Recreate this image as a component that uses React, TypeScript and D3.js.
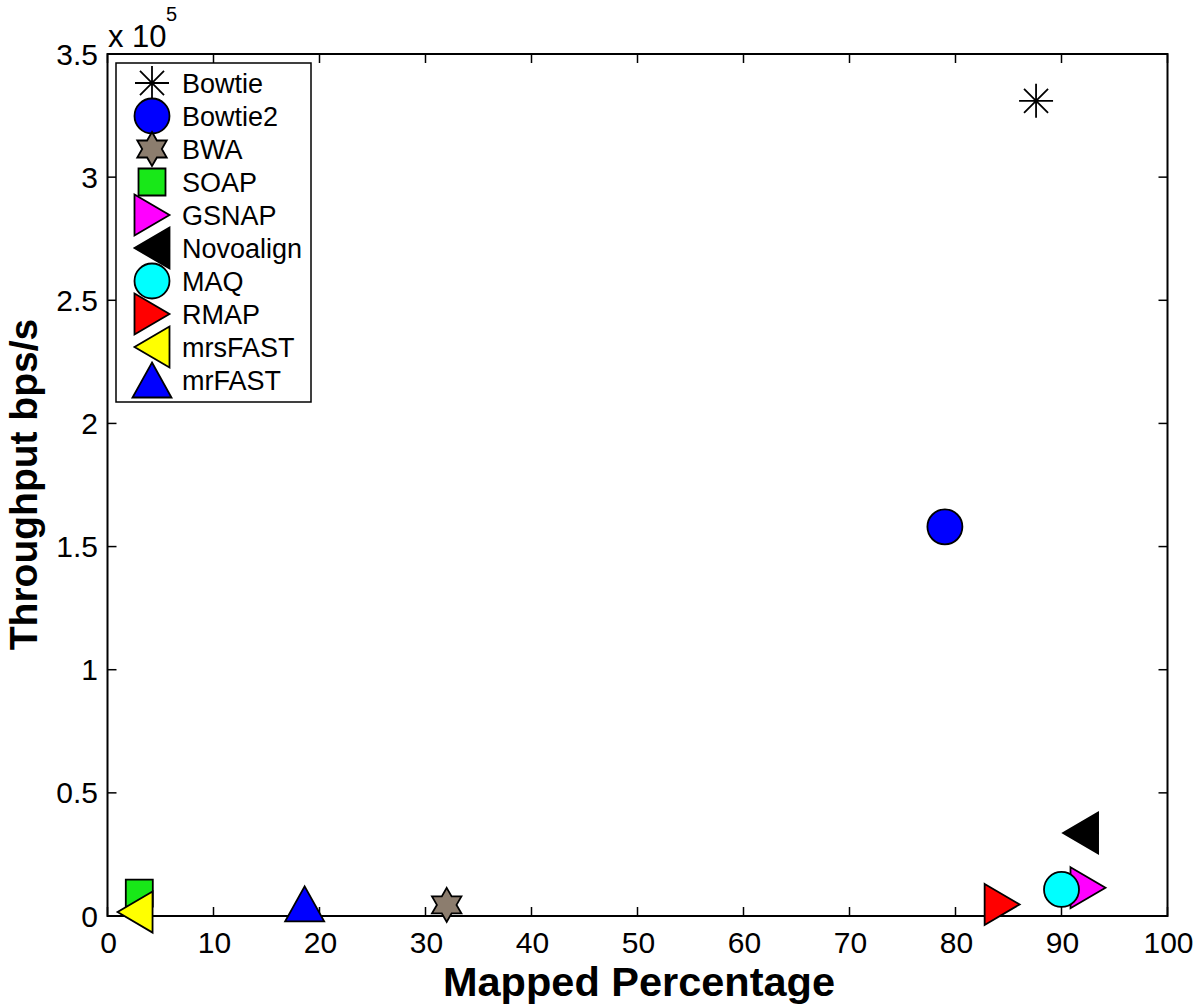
import * as d3 from "d3";

// aligners, in legend order
const names = ["Bowtie", "Bowtie2", "BWA", "SOAP", "GSNAP", "Novoalign", "MAQ", "RMAP", "mrsFAST", "mrFAST"];
const mappedPct = [87.6, 79.0, 32.0, 3.0, 92.5, 91.8, 90.0, 84.4, 2.6, 18.6];
const throughput = [331000, 158000, 4500, 9300, 11500, 33700, 10800, 4700, 1600, 4900];
const markers = ["asterisk", "circle", "hexagram", "square", "right", "left", "circle", "right", "left", "up"];
const colors = ["none", "#0000ff", "#8c7d6e", "#18e818", "#ff00ff", "#000000", "#00ffff", "#ff0000", "#ffff00", "#0000ff"];

const xTicks = [0, 10, 20, 30, 40, 50, 60, 70, 80, 90, 100];
const yTicks = [0, 0.5, 1, 1.5, 2, 2.5, 3, 3.5];

const width = 1200;
const height = 1006;
const marginLeft = 107.5;
const marginRight = 32.5;
const marginTop = 54;
const marginBottom = 90;
const font = "'Liberation Sans', Arial, Helvetica, sans-serif";

function markerPath(kind: string) {
  switch (kind) {
    case "circle":
      return d3.arc()({ innerRadius: 0, outerRadius: 17.5, startAngle: 0, endAngle: 2 * Math.PI }) as string;
    case "square":
      return "M-13.5,-13.5H13.5V13.5H-13.5Z";
    case "right":
      return "M-17.5,-20.5L17.5,0L-17.5,20.5Z";
    case "left":
      return "M17.5,-20.5L-17.5,0L17.5,20.5Z";
    case "up":
      return "M0,-17.5L19.5,17.5L-19.5,17.5Z";
    case "hexagram": {
      const pts: [number, number][] = [];
      for (let i = 0; i < 12; i++) {
        const r = i % 2 === 0 ? 17 : 9.8;
        const a = (i * Math.PI) / 6 - Math.PI / 2;
        pts.push([r * Math.cos(a), r * Math.sin(a)]);
      }
      return d3.line()(pts) + "Z";
    }
    case "asterisk": {
      const r = 17;
      const d = r * Math.SQRT1_2;
      return `M${-r},0H${r}M0,${-r}V${r}M${-d},${-d}L${d},${d}M${-d},${d}L${d},${-d}`;
    }
  }
  return "";
}

function Marker({ kind, color, x, y }: { kind: string; color: string; x: number; y: number }) {
  return (
    <path
      d={markerPath(kind)}
      transform={`translate(${x},${y})`}
      fill={kind === "asterisk" ? "none" : color}
      stroke="#000"
      strokeWidth={1.8}
      strokeLinejoin="miter"
    />
  );
}

export default function App() {
  const x = d3.scaleLinear([0, 100], [marginLeft, width - marginRight]);
  const y = d3.scaleLinear([0, 3.5], [height - marginBottom, marginTop]);
  const x0 = x(0), x1 = x(100), y0 = y(0), y1 = y(3.5);
  const tick = 9;

  return (
    <svg width={width} height={height} style={{ position: "absolute", left: 0, top: 0, background: "#fff" }} fontFamily={font}>
      <rect x={0} y={0} width={width} height={height} fill="#fff" />
      {/* ticks on all four sides, pointing inward */}
      <g stroke="#000" strokeWidth={1.5}>
        {xTicks.map((t) => (
          <g key={"xt" + t}>
            <line x1={x(t)} x2={x(t)} y1={y0} y2={y0 - tick} />
            <line x1={x(t)} x2={x(t)} y1={y1} y2={y1 + tick} />
          </g>
        ))}
        {yTicks.map((t) => (
          <g key={"yt" + t}>
            <line x1={x0} x2={x0 + tick} y1={y(t)} y2={y(t)} />
            <line x1={x1} x2={x1 - tick} y1={y(t)} y2={y(t)} />
          </g>
        ))}
      </g>
      <rect x={x0} y={y1} width={x1 - x0} height={y0 - y1} fill="none" stroke="#000" strokeWidth={2} />

      <g fontSize={30} fill="#000">
        {xTicks.map((t) => (
          <text key={"xl" + t} x={x(t) + 1} y={953} textAnchor="middle">{t}</text>
        ))}
        {yTicks.map((t) => (
          <text key={"yl" + t} x={98} y={y(t)} textAnchor="end" dominantBaseline="central">{t}</text>
        ))}
      </g>
      <text x={108} y={47} fontSize={31}>x 10</text>
      <text x={166} y={21} fontSize={20}>5</text>

      <text x={639} y={996} textAnchor="middle" fontSize={41.5} fontWeight="bold">Mapped Percentage</text>
      <text transform={`translate(37,484.5) rotate(-90)`} textAnchor="middle" fontSize={39} fontWeight="bold">Throughput bps/s</text>

      {/* data */}
      {names.map((n, i) => (
        <Marker key={"m" + n} kind={markers[i]} color={colors[i]} x={x(mappedPct[i])} y={y(throughput[i] / 1e5)} />
      ))}

      {/* legend */}
      <rect x={116} y={63} width={195} height={339} fill="#fff" stroke="#000" strokeWidth={1.5} />
      {names.map((n, i) => (
        <g key={"lg" + n}>
          <Marker kind={markers[i]} color={colors[i]} x={152} y={83 + i * 33} />
          <text x={182} y={84 + i * 33} fontSize={27} dominantBaseline="central">{n}</text>
        </g>
      ))}
    </svg>
  );
}
